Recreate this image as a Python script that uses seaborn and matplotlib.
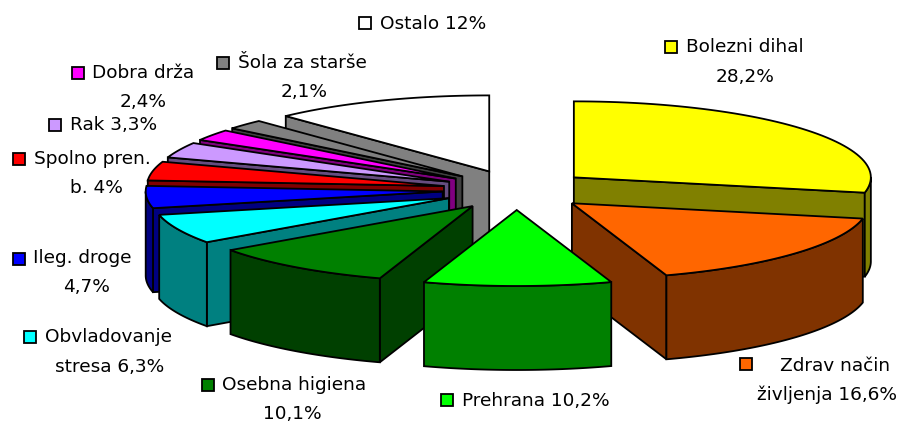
import numpy as np
import matplotlib
matplotlib.use("Agg")
import matplotlib.pyplot as plt
from matplotlib.colors import to_rgb
from matplotlib.patches import Polygon, Rectangle
import seaborn as sns

# data, clockwise from 12 o'clock
names = ["Bolezni dihal", "Zdrav način življenja", "Prehrana", "Osebna higiena",
         "Obvladovanje stresa", "Ileg. droge", "Spolno pren. b.", "Rak",
         "Dobra drža", "Šola za starše", "Ostalo"]
values = [28.2, 16.6, 10.2, 10.1, 6.3, 4.7, 4.0, 3.3, 2.4, 2.1, 12.0]
colors = ["#FFFF00", "#FF6600", "#00FF00", "#008000", "#00FFFF", "#0000FF",
          "#FF0000", "#CC99FF", "#FF00FF", "#808080", "#FFFFFF"]

sns.set_theme(style="white")
plt.rcParams["font.family"] = ["DejaVu Sans"]

W, H = 911, 422
fig = plt.figure(figsize=(W / 100, H / 100), dpi=100)
ax = fig.add_axes([0, 0, 1, 1])
ax.set_xlim(0, W)
ax.set_ylim(H, 0)
ax.axis("off")

CX, CY, RX, RY, DEPTH = 516.5, 190, 297, 76, 84
EX, EY = 74, 20   # explosion
LW = 1.3


def arc(cx, cy, a0, a1, n=60):
    t = np.radians(np.linspace(a0, a1, n))
    return np.column_stack([cx + RX * np.cos(t), cy - RY * np.sin(t)])


def poly(pts, fc):
    ax.add_patch(Polygon(pts, closed=True, fc=fc, ec="black", lw=LW, joinstyle="miter"))


cum = np.cumsum([0] + values) / sum(values)
slices = []
for i, v in enumerate(values):
    a0 = 90 - cum[i] * 360
    a1 = 90 - cum[i + 1] * 360
    mid = np.radians((a0 + a1) / 2)
    slices.append((i, a0, a1, CX + EX * np.cos(mid), CY - EY * np.sin(mid)))

# painter's order: rear slices first, then the exploded front ones
order = [10, 9, 8, 7, 6, 5, 4, 3, 0, 1, 2]
for i in order:
    _, a0, a1, cx, cy = slices[i]
    side = tuple(c * 0.5 for c in to_rgb(colors[i]))
    apex = np.array([cx, cy])
    down = np.array([0, DEPTH])
    # radial walls, only those that face the viewer
    if np.cos(np.radians(a0)) < -1e-6:
        p = arc(cx, cy, a0, a0, 1)[0]
        poly([apex, p, p + down, apex + down], side)
    if np.cos(np.radians(a1)) > 1e-6:
        p = arc(cx, cy, a1, a1, 1)[0]
        poly([apex, p, p + down, apex + down], side)
    # outer wall: only the part of the rim on the near half
    lo, hi = a1, a0
    for s, e in ((-180, 0), (-540, -360), (180, 360)):
        x0, x1 = max(lo, s), min(hi, e)
        if x1 > x0:
            rim = arc(cx, cy, x0, x1)
            poly(np.vstack([rim, (rim + down)[::-1]]), side)
    poly(np.vstack([[apex], arc(cx, cy, a0, a1)]), colors[i])

# legend keys: (slice, key left, key top)
keys = [(0, 665, 41), (1, 740, 358), (2, 441, 394), (3, 202, 379), (4, 24, 331),
        (5, 13, 253), (6, 13, 153), (7, 49, 119), (8, 72, 67), (9, 217, 57), (10, 359, 17)]
for i, kx, ky in keys:
    ax.add_patch(Rectangle((kx, ky), 12, 12, fc=colors[i], ec="black", lw=LW))

labels = [("Bolezni dihal", 686, 47, "left"), ("28,2%", 745, 77, "center"),
          ("Zdrav način", 780, 366, "left"), ("življenja 16,6%", 757, 395, "left"),
          ("Prehrana 10,2%", 462, 401, "left"),
          ("Osebna higiena", 222, 385, "left"), ("10,1%", 292, 414, "center"),
          ("Obvladovanje", 45, 337, "left"), ("stresa 6,3%", 110, 367, "center"),
          ("Ileg. droge", 33, 258, "left"), ("4,7%", 87, 287, "center"),
          ("Spolno pren.", 34, 159, "left"), ("b. 4%", 96, 188, "center"),
          ("Rak 3,3%", 70, 125, "left"),
          ("Dobra drža", 92, 73, "left"), ("2,4%", 143, 102, "center"),
          ("Šola za starše", 238, 63, "left"), ("2,1%", 304, 92, "center"),
          ("Ostalo 12%", 380, 24, "left")]
for s, x, y, ha in labels:
    ax.text(x, y, s, ha=ha, va="center", fontsize=13.3, color="black")

fig.savefig("out.png", dpi=100, facecolor="white")
